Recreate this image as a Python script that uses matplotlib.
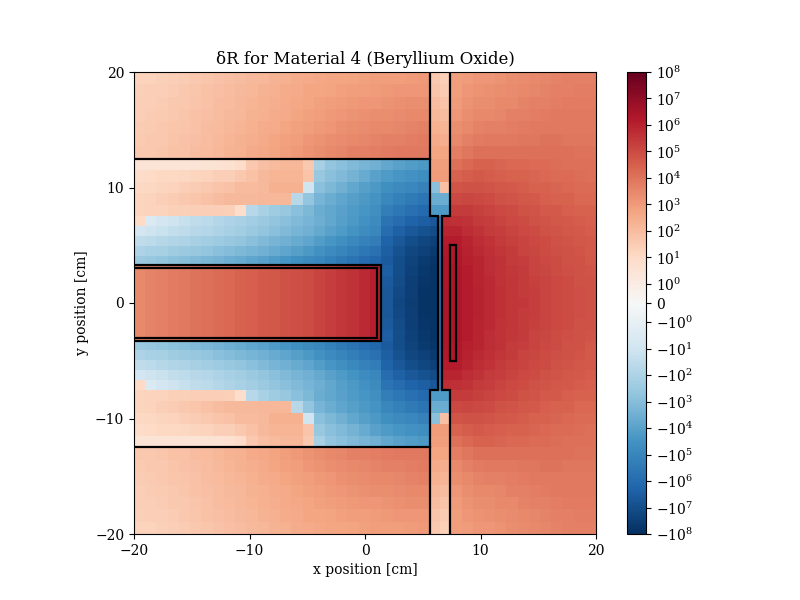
import numpy as np
import matplotlib
matplotlib.use("Agg")
import matplotlib.pyplot as plt
from matplotlib.colors import SymLogNorm

plt.rcParams['font.family'] = ['DejaVu Serif']

# ---------------- data (signed decades: v -> sign(v)*10**|v|) ----------------
# Upper half of the map, rows from y=20 down to the centre row (map is mirror-symmetric in y)
# Left region: 26 columns (x from -20 to 5.6)
left_top = [
    [1.3, 1.3, 1.35, 1.4, 1.5, 1.6, 1.7, 1.8, 1.9, 2.0, 2.1, 2.2, 2.3, 2.4, 2.5, 2.6, 2.65, 2.7, 2.75, 2.8, 2.85, 2.9, 2.9, 2.95, 3.0, 3.05],
    [1.35, 1.4, 1.45, 1.5, 1.6, 1.7, 1.8, 1.9, 2.0, 2.1, 2.2, 2.3, 2.4, 2.5, 2.6, 2.7, 2.75, 2.8, 2.85, 2.9, 2.95, 3.0, 3.05, 3.1, 3.15, 3.15],
    [1.4, 1.45, 1.5, 1.6, 1.65, 1.75, 1.85, 1.95, 2.05, 2.15, 2.25, 2.35, 2.45, 2.55, 2.65, 2.75, 2.85, 2.95, 3.0, 3.05, 3.1, 3.15, 3.2, 3.25, 3.3, 3.3],
    [1.45, 1.5, 1.55, 1.65, 1.7, 1.8, 1.9, 2.0, 2.1, 2.2, 2.3, 2.4, 2.5, 2.6, 2.7, 2.85, 2.95, 3.05, 3.15, 3.2, 3.25, 3.3, 3.35, 3.4, 3.45, 3.5],
    [1.5, 1.55, 1.6, 1.7, 1.75, 1.85, 1.95, 2.05, 2.15, 2.25, 2.4, 2.5, 2.6, 2.7, 2.85, 2.95, 3.05, 3.15, 3.25, 3.35, 3.4, 3.45, 3.5, 3.55, 3.6, 3.65],
    [1.55, 1.6, 1.65, 1.75, 1.8, 1.9, 2.0, 2.1, 2.25, 2.35, 2.45, 2.6, 2.7, 2.85, 2.95, 3.1, 3.2, 3.3, 3.4, 3.5, 3.55, 3.6, 3.65, 3.7, 3.75, 3.8],
    [1.6, 1.65, 1.7, 1.8, 1.85, 1.95, 2.05, 2.15, 2.3, 2.4, 2.55, 2.65, 2.8, 2.95, 3.05, 3.2, 3.3, 3.45, 3.55, 3.65, 3.7, 3.75, 3.8, 3.85, 3.9, 3.9],
]
left_mid = [
    [0.5, 0.5, 0.5, 0.5, 0.5, 0.5, 0.55, 0.6, 0.7, 0.95, 1.6, 1.9, 2.05, 2.2, 2.2, 1.6, -2.2, -2.7, -2.9, -3.1, -3.3, -3.5, -3.8, -4.0, -4.15, -4.3],
    [0.95, 1.0, 1.05, 1.1, 1.15, 1.2, 1.3, 1.4, 1.45, 1.65, 1.85, 2.1, 2.25, 2.25, 2.25, 1.75, -2.6, -2.9, -3.1, -3.4, -3.7, -4.0, -4.2, -4.4, -4.55, -4.7],
    [1.1, 1.15, 1.2, 1.3, 1.4, 1.5, 1.6, 1.75, 1.85, 2.05, 2.05, 2.1, 2.35, 2.35, 2.35, -1.0, -2.9, -3.2, -3.5, -3.8, -4.05, -4.3, -4.6, -4.8, -5.0, -5.2],
    [1.25, 1.3, 1.4, 1.5, 1.6, 1.7, 1.85, 1.95, 2.1, 2.1, 2.1, 2.15, 2.15, 2.2, -1.7, -2.7, -3.3, -3.6, -3.9, -4.1, -4.3, -4.5, -5.0, -5.25, -5.45, -5.65],
    [1.25, 1.3, 1.3, 1.35, 1.35, 1.4, 1.4, 1.4, 1.35, 0.9, -1.7, -2.1, -2.35, -2.55, -2.9, -3.2, -3.6, -3.8, -4.0, -4.2, -4.4, -4.6, -5.3, -5.6, -5.85, -6.05],
    [1.0, -0.6, -0.9, -1.1, -1.3, -1.5, -1.65, -1.8, -1.95, -2.1, -2.3, -2.5, -2.7, -2.9, -3.1, -3.3, -3.55, -3.8, -4.05, -4.3, -4.55, -4.8, -5.7, -6.0, -6.3, -6.5],
    [-0.9, -1.1, -1.25, -1.4, -1.55, -1.7, -1.85, -2.0, -2.15, -2.3, -2.5, -2.7, -2.9, -3.1, -3.3, -3.5, -3.75, -4.0, -4.25, -4.5, -4.75, -5.0, -6.0, -6.4, -6.7, -6.9],
    [-1.5, -1.6, -1.75, -1.9, -2.0, -2.15, -2.3, -2.45, -2.6, -2.75, -2.9, -3.1, -3.3, -3.5, -3.7, -3.9, -4.15, -4.4, -4.65, -4.9, -5.15, -5.4, -6.3, -6.7, -7.0, -7.2],
    [-2.0, -2.1, -2.2, -2.35, -2.5, -2.6, -2.75, -2.9, -3.05, -3.2, -3.35, -3.5, -3.7, -3.9, -4.1, -4.3, -4.55, -4.8, -5.05, -5.3, -5.55, -5.8, -6.5, -6.9, -7.2, -7.4],
    [-2.5, -2.6, -2.7, -2.85, -3.0, -3.1, -3.25, -3.4, -3.55, -3.7, -3.85, -4.0, -4.2, -4.4, -4.6, -4.8, -5.0, -5.25, -5.5, -5.75, -6.0, -6.2, -6.6, -7.0, -7.35, -7.6],
]
# target slab (x < 1.4) and the gap beside it, rows from y=3.25 to the centre
rect_vals = [3.5, 3.6, 3.7, 3.8, 3.9, 4.0, 4.1, 4.2, 4.3, 4.4, 4.5, 4.6, 4.7, 4.8, 4.9, 5.0, 5.15, 5.3, 5.45, 5.6, 5.8, 6.05]
rect_gap = [
    [-6.5, -7.0, -7.4, -7.7],
    [-6.6, -7.1, -7.5, -7.75],
    [-6.7, -7.15, -7.5, -7.8],
    [-6.7, -7.2, -7.55, -7.8],
]
# strip columns (5.6-6.3, 6.3-6.5, 6.5-6.7, 6.7-7.4)
strip_vals = [
    [1.6, 1.6, 1.35, 1.35],
    [1.75, 1.75, 1.5, 1.5],
    [1.95, 1.95, 1.75, 1.75],
    [2.15, 2.15, 2.0, 2.0],
    [2.35, 2.35, 2.25, 2.25],
    [2.55, 2.55, 2.45, 2.45],
    [2.75, 2.75, 2.7, 2.7],
    [2.9, 2.9, 2.9, 2.9],
    [3.0, 3.0, 3.0, 3.0],
    [-2.9, -2.9, 1.9, 1.9],
    [-3.6, -3.6, -3.6, -3.6],
    [-4.2, -4.2, -4.2, -4.2],
    [-6.7, -5.4, -5.4, 5.7],
    [-7.1, -5.7, -5.7, 5.95],
    [-7.4, -5.8, -5.8, 6.15],
    [-7.6, -5.85, -5.85, 6.25],
    [-7.75, -5.9, -5.9, 6.3],
    [-7.8, -5.9, -5.9, 6.35],
    [-7.85, -5.9, -5.9, 6.35],
    [-7.85, -5.9, -5.9, 6.4],
    [-7.85, -5.9, -5.9, 6.4],
]
# right region: 13 columns (x from 7.4 to 20)
right_vals = [
    [2.9, 3.0, 3.1, 3.15, 3.2, 3.3, 3.4, 3.5, 3.55, 3.6, 3.65, 3.7, 3.7],
    [2.95, 3.1, 3.2, 3.25, 3.3, 3.4, 3.5, 3.55, 3.6, 3.65, 3.7, 3.75, 3.75],
    [3.0, 3.2, 3.3, 3.35, 3.45, 3.5, 3.6, 3.65, 3.7, 3.75, 3.8, 3.8, 3.8],
    [3.1, 3.3, 3.45, 3.5, 3.55, 3.65, 3.7, 3.75, 3.8, 3.85, 3.85, 3.85, 3.85],
    [3.3, 3.5, 3.6, 3.65, 3.7, 3.75, 3.8, 3.85, 3.9, 3.9, 3.9, 3.9, 3.9],
    [3.5, 3.7, 3.8, 3.85, 3.9, 3.9, 3.95, 3.95, 4.0, 4.0, 3.95, 3.95, 3.95],
    [3.75, 3.95, 4.05, 4.05, 4.1, 4.1, 4.1, 4.1, 4.1, 4.05, 4.05, 4.0, 4.0],
    [4.1, 4.3, 4.4, 4.4, 4.35, 4.3, 4.3, 4.25, 4.2, 4.15, 4.1, 4.1, 4.05],
    [4.4, 4.55, 4.6, 4.55, 4.5, 4.45, 4.4, 4.35, 4.3, 4.25, 4.2, 4.15, 4.1],
    [4.75, 4.85, 4.8, 4.75, 4.7, 4.6, 4.55, 4.45, 4.4, 4.35, 4.3, 4.25, 4.2],
    [5.05, 5.1, 5.05, 4.95, 4.85, 4.75, 4.7, 4.6, 4.5, 4.45, 4.4, 4.3, 4.3],
    [5.4, 5.35, 5.25, 5.15, 5.05, 4.95, 4.85, 4.75, 4.65, 4.6, 4.5, 4.45, 4.4],
    [5.65, 5.55, 5.4, 5.3, 5.2, 5.05, 4.95, 4.85, 4.75, 4.7, 4.6, 4.55, 4.5],
    [5.9, 5.7, 5.55, 5.4, 5.3, 5.15, 5.05, 4.95, 4.85, 4.75, 4.7, 4.6, 4.55],
    [6.1, 5.9, 5.7, 5.55, 5.4, 5.25, 5.15, 5.05, 4.95, 4.85, 4.75, 4.7, 4.6],
    [6.2, 6.0, 5.8, 5.65, 5.5, 5.35, 5.2, 5.1, 5.0, 4.9, 4.8, 4.75, 4.65],
    [6.25, 6.05, 5.9, 5.7, 5.55, 5.4, 5.3, 5.15, 5.05, 4.95, 4.85, 4.8, 4.7],
    [6.3, 6.1, 5.95, 5.75, 5.6, 5.45, 5.35, 5.2, 5.1, 5.0, 4.9, 4.85, 4.75],
    [6.3, 6.1, 5.95, 5.8, 5.6, 5.5, 5.4, 5.25, 5.15, 5.05, 4.95, 4.85, 4.8],
    [6.35, 6.15, 6.0, 5.8, 5.65, 5.5, 5.4, 5.3, 5.15, 5.05, 4.95, 4.9, 4.8],
    [6.35, 6.15, 6.0, 5.8, 5.65, 5.5, 5.45, 5.3, 5.15, 5.05, 4.95, 4.9, 4.8],
]

cbar_exps = [0, 1, 2, 3, 4, 5, 6, 7, 8]

# ---------------- mesh ----------------
xe = np.concatenate([np.linspace(-20, 1.4, 23), np.linspace(1.4, 5.6, 5)[1:],
                     [6.3, 6.5, 6.7, 7.4], np.linspace(7.4, 20, 14)[1:]])
ye = np.concatenate([np.linspace(20, 12.5, 8), np.linspace(12.5, 7.5, 6)[1:],
                     np.linspace(7.5, 3.25, 6)[1:], np.linspace(3.25, -3.25, 8)[1:],
                     np.linspace(-3.25, -7.5, 6)[1:], np.linspace(-7.5, -12.5, 6)[1:],
                     np.linspace(-12.5, -20, 8)[1:]])

left_rows = left_top + left_mid + [rect_vals + g for g in rect_gap]
upper = [l + s + r for l, s, r in zip(left_rows, strip_vals, right_vals)]
full = np.array(upper + upper[:-1][::-1], dtype=float)
C = np.sign(full) * 10.0 ** np.abs(full)

# ---------------- plot ----------------
fig = plt.figure(figsize=(8, 6), dpi=100)
ax = fig.add_axes([134 / 800, 66 / 600, 462 / 800, 462 / 600])
cax = fig.add_axes([627 / 800, 66 / 600, 19 / 800, 462 / 600])

norm = SymLogNorm(linthresh=1, linscale=0.65, vmin=-1e8, vmax=1e8, base=10)
pc = ax.pcolormesh(xe, ye, C, cmap='RdBu_r', norm=norm, shading='flat')

lk = dict(color='black', lw=1.6, solid_joinstyle='miter')
ax.plot([-20, 5.6], [12.5, 12.5], **lk)
ax.plot([-20, 5.6], [-12.5, -12.5], **lk)
ax.plot([5.6, 5.6, 6.3, 6.3, 5.6, 5.6], [20, 7.5, 7.5, -7.5, -7.5, -20], **lk)
ax.plot([7.4, 7.4, 6.7, 6.7, 7.4, 7.4], [20, 7.5, 7.5, -7.5, -7.5, -20], **lk)
ax.plot([-20, 1.35, 1.35, -20], [3.25, 3.25, -3.25, -3.25], **lk)
ax.plot([-20, 1.0, 1.0, -20], [3.0, 3.0, -3.0, -3.0], **lk)
ax.plot([7.4, 7.85, 7.85, 7.4, 7.4], [5, 5, -5, -5, 5], **lk)

ax.set_xlim(-20, 20)
ax.set_ylim(-20, 20)
ax.set_xticks([-20, -10, 0, 10, 20])
ax.set_yticks([-20, -10, 0, 10, 20])
ax.set_xlabel('x position [cm]')
ax.set_ylabel('y position [cm]')
ax.set_title('δR for Material 4 (Beryllium Oxide)')

cb = fig.colorbar(pc, cax=cax)
ticks = [-(10.0 ** k) for k in cbar_exps[::-1]] + [0] + [10.0 ** k for k in cbar_exps]
labels = [r'$\mathdefault{-10^{%d}}$' % k for k in cbar_exps[::-1]] + [r'$\mathdefault{0}$'] + \
         [r'$\mathdefault{10^{%d}}$' % k for k in cbar_exps]
cb.set_ticks(ticks)
cb.set_ticklabels(labels)
cb.ax.minorticks_off()

fig.savefig('out.png', dpi=100)
